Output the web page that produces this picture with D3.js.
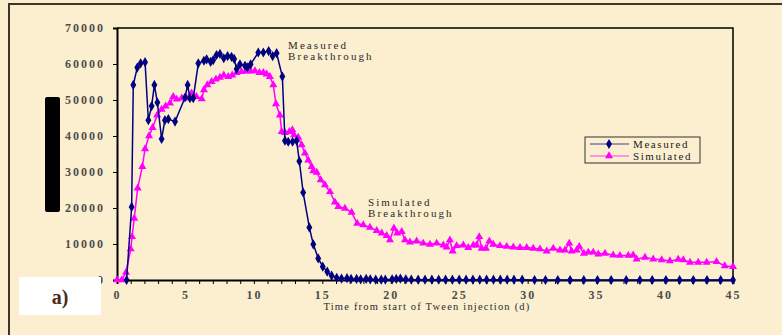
<!DOCTYPE html>
<html>
<head>
<meta charset="utf-8">
<script src="https://cdn.jsdelivr.net/npm/d3@7"></script>
<style>
  html, body { margin: 0; padding: 0; background: #fbefd0; }
  svg { display: block; }
</style>
</head>
<body>
<div id="chart"></div>
<script>
// days since start of Tween injection, measured series
const measuredDays = [0.7, 1.07, 1.19, 1.48, 1.73, 2.05, 2.29, 2.53, 2.73, 2.95, 3.26, 3.5, 3.75, 4.24,
  4.97, 5.16, 5.33, 5.57, 5.94, 6.35, 6.55, 6.84, 7.03, 7.27, 7.52, 7.8, 8.08, 8.37, 8.56, 8.74, 8.98,
  9.35, 9.52, 9.76, 10.32, 10.69, 11.08, 11.37, 11.66, 12.08, 12.27, 12.51, 12.83, 13.12, 13.32, 13.6,
  14.05, 14.34, 14.7, 15.03, 15.36, 15.68, 16.05, 16.4, 16.8, 17.1, 17.5, 17.8, 18.2, 18.5, 18.9, 19.3,
  19.6, 20.1, 20.4, 20.7, 21.1, 21.5, 22.0, 22.5, 23.0, 23.5, 24.0, 24.5, 25.0, 25.5, 26.0, 26.5, 27.0,
  27.5, 28.0, 28.5, 29.0, 29.6, 30.5, 31.3, 32.2, 33.1, 34.1, 35.1, 36.1, 37.2, 38.2, 39.1, 40.1, 41.1,
  42.1, 43.1, 44.1, 45];
const measuredValues = [0, 20300, 54200, 59000, 60200, 60500, 44400, 48300, 54200, 49300, 39200, 44400,
  44700, 44000, 50700, 54200, 50500, 50500, 60200, 60900, 61300, 60600, 61100, 62500, 62800, 61600,
  62200, 62000, 61400, 58600, 59900, 59500, 59100, 59900, 63200, 63200, 63600, 62200, 63000, 56500,
  38700, 38400, 38400, 38700, 33000, 24300, 14600, 9900, 6000, 3700, 2300, 1200, 600, 400, 500, 300,
  300, 200, 300, 200, 100, 100, 100, 200, 300, 400, 200, 100, 100, 100, 100, 100, 100, 100, 100, 100,
  100, 100, 100, 100, 100, 100, 100, 100, 0, 0, 0, 0, 0, 0, 0, 0, 0, 0, 0, 0, 0, 0, 0, 0, 0];

// simulated series
const simulatedDays = [0, 0.35, 0.66, 1.0, 1.1, 1.26, 1.51, 1.85, 2.05, 2.34, 2.6, 2.94, 3.26, 3.55, 3.87,
  4.11, 4.36, 4.73, 5.09, 5.45, 5.8, 6.19, 6.35, 6.6, 6.91, 7.23, 7.52, 7.8, 8.13, 8.42, 8.74, 9.1, 9.47,
  9.76, 10.08, 10.4, 10.69, 10.93, 11.17, 11.42, 11.61, 11.9, 12.03, 12.27, 12.59, 12.81, 12.93, 13.24,
  13.49, 13.73, 13.97, 14.22, 14.34, 14.59, 14.88, 15.19, 15.56, 15.92, 16.17, 16.65, 17.14, 17.55, 17.99,
  18.48, 18.97, 19.34, 19.7, 19.94, 20.23, 20.47, 20.8, 21.04, 21.4, 21.89, 22.37, 22.86, 23.35, 23.84,
  24.08, 24.32, 24.52, 24.81, 25.3, 25.66, 26.03, 26.27, 26.46, 26.64, 26.95, 27.2, 27.49, 27.98, 28.47,
  28.95, 29.44, 29.93, 30.41, 30.9, 31.39, 31.87, 32.36, 32.72, 33.04, 33.21, 33.58, 33.77, 34.11, 34.43,
  34.79, 35.16, 35.65, 36.25, 36.74, 37.35, 37.71, 37.96, 38.57, 39.17, 39.79, 40.39, 41.0, 41.37, 41.86,
  42.46, 43.07, 43.8, 44.4, 45];
const simulatedValues = [0, 0, 2100, 8600, 12000, 17100, 25500, 31500, 36400, 40000, 42300, 45800, 47400,
  48300, 49100, 50900, 50200, 50500, 50500, 51900, 50900, 50300, 52800, 54200, 55100, 55800, 56300, 56900,
  56500, 56900, 57600, 57900, 58000, 58000, 58100, 57600, 57600, 57200, 56500, 54200, 48900, 45800, 41200,
  40900, 41200, 41700, 40300, 39600, 37500, 35200, 33300, 31500, 30300, 29900, 27800, 26400, 24500, 21600,
  20400, 19900, 18800, 15700, 15300, 14600, 13700, 13000, 12300, 11100, 14400, 13000, 13400, 11100, 10500,
  10800, 10200, 9900, 10200, 9700, 9100, 11100, 8000, 9500, 9700, 9000, 9700, 9700, 12000, 8800, 8800,
  10800, 9900, 9500, 9300, 9100, 9000, 9000, 8800, 8600, 8000, 8800, 8300, 8300, 10200, 8000, 8300, 9300,
  7400, 7700, 7700, 7200, 7400, 6900, 6800, 6800, 6900, 5800, 6300, 5800, 5600, 5300, 5700, 5600, 4900,
  4900, 4900, 5100, 3900, 3700];

const xTicks = [0, 5, 10, 15, 20, 25, 30, 35, 40, 45];
const yTicks = [0, 10000, 20000, 30000, 40000, 50000, 60000, 70000];
const seriesNames = ["Measured", "Simulated"];

const width = 782, height = 335;
const plot = { left: 117, right: 733, top: 28, bottom: 280 };
const navy = "#000080", magenta = "#ff00ff";
const serif = "'Liberation Serif', 'Times New Roman', serif";

const svg = d3.select("#chart").append("svg")
  .attr("width", width)
  .attr("height", height);

svg.append("rect")
  .attr("width", width).attr("height", height)
  .attr("fill", "#fbefd0");

// outer frame (only top and left visible)
svg.append("path")
  .attr("d", "M9,335 V4 H782")
  .attr("fill", "none")
  .attr("stroke", "#3a3530")
  .attr("stroke-width", 2);

const x = d3.scaleLinear().domain([0, 45]).range([plot.left, plot.right]);
const y = d3.scaleLinear().domain([0, 70000]).range([plot.bottom, plot.top]);

// plot frame top/right
svg.append("path")
  .attr("d", `M${plot.left},${plot.top} H${plot.right} V${plot.bottom}`)
  .attr("fill", "none")
  .attr("stroke", "#000")
  .attr("stroke-width", 1.5);

// y axis
const yAxis = svg.append("g")
  .attr("transform", `translate(${plot.left},0)`)
  .call(d3.axisLeft(y).tickValues(yTicks).tickSize(4).tickPadding(8).tickFormat(d3.format("d")));
yAxis.select(".domain").attr("stroke-width", 2);
yAxis.selectAll("text")
  .attr("font-family", serif).attr("font-size", 12).attr("font-weight", "bold")
  .attr("fill", "#4d4d4d").attr("letter-spacing", "2px");

// x axis
const xAxis = svg.append("g")
  .attr("transform", `translate(0,${plot.bottom})`)
  .call(d3.axisBottom(x).ticks(45).tickSize(4).tickPadding(6)
    .tickFormat(d => xTicks.includes(d) ? d : ""));
xAxis.select(".domain").attr("stroke-width", 2);
xAxis.selectAll("text")
  .attr("font-family", serif).attr("font-size", 12).attr("font-weight", "bold")
  .attr("fill", "#4d4d4d").attr("letter-spacing", "2px");

svg.append("text")
  .attr("x", (plot.left + plot.right) / 2 + 2).attr("y", 310)
  .attr("text-anchor", "middle")
  .attr("font-family", serif).attr("font-size", 10.5)
  .attr("letter-spacing", "1.2px").attr("fill", "#2b2b2b")
  .text("Time from start of Tween injection (d)");

const measured = measuredDays.map((d, i) => [d, measuredValues[i]]);
const simulated = simulatedDays.map((d, i) => [d, simulatedValues[i]]);

const line = d3.line().x(d => x(d[0])).y(d => y(d[1]));

const diamond = d3.symbol().type(d3.symbolDiamond).size(30);
const triangle = d3.symbol().type(d3.symbolTriangle).size(28);

svg.append("path").datum(simulated)
  .attr("d", line).attr("fill", "none")
  .attr("stroke", magenta).attr("stroke-width", 1.5);
svg.append("g").selectAll("path").data(simulated).join("path")
  .attr("d", triangle)
  .attr("transform", d => `translate(${x(d[0])},${y(d[1])})`)
  .attr("fill", magenta);

svg.append("path").datum(measured)
  .attr("d", line).attr("fill", "none")
  .attr("stroke", navy).attr("stroke-width", 1.5);
svg.append("g").selectAll("path").data(measured).join("path")
  .attr("d", diamond)
  .attr("transform", d => `translate(${x(d[0])},${y(d[1])})`)
  .attr("fill", navy);

// annotations
function label(lines, px, py) {
  const t = svg.append("text")
    .attr("font-family", serif).attr("font-size", 11)
    .attr("letter-spacing", "2.1px").attr("fill", "#2b2b2b");
  lines.forEach((s, i) => t.append("tspan").attr("x", px).attr("y", py + i * 11).text(s));
}
label(["Measured", "Breakthrough"], 288, 49);
label(["Simulated", "Breakthrough"], 368, 206);

// legend
const legend = svg.append("g").attr("transform", "translate(585,137)");
legend.append("rect")
  .attr("width", 115).attr("height", 26)
  .attr("fill", "none").attr("stroke", "#333").attr("stroke-width", 1);
[navy, magenta].forEach((c, i) => {
  const ly = 7 + i * 12;
  legend.append("line")
    .attr("x1", 5).attr("x2", 44).attr("y1", ly).attr("y2", ly)
    .attr("stroke", c).attr("stroke-opacity", 0.5).attr("stroke-width", 1.5);
  legend.append("path")
    .attr("d", i === 0 ? diamond() : triangle())
    .attr("transform", `translate(24,${ly})`)
    .attr("fill", c);
  legend.append("text")
    .attr("x", 48).attr("y", ly + 3.5)
    .attr("font-family", serif).attr("font-size", 11)
    .attr("letter-spacing", "1.6px").attr("fill", "#222")
    .text(seriesNames[i]);
});

// black bar left of axis
svg.append("rect")
  .attr("x", 45).attr("y", 97).attr("width", 15).attr("height", 115)
  .attr("rx", 2).attr("fill", "#000");

// panel label
svg.append("rect")
  .attr("x", 19).attr("y", 277).attr("width", 82).attr("height", 38)
  .attr("fill", "#fff");
svg.append("text")
  .attr("x", 60).attr("y", 304)
  .attr("text-anchor", "middle")
  .attr("font-family", serif).attr("font-size", 20).attr("font-weight", "bold")
  .attr("fill", "#4a2b20")
  .text("a)");
</script>
</body>
</html>
